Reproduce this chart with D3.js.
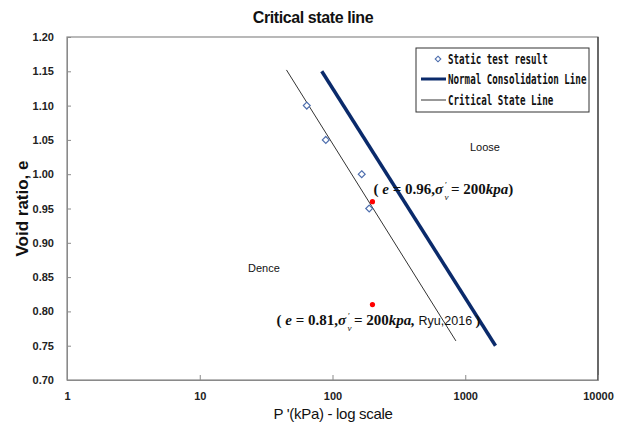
<!DOCTYPE html>
<html>
<head>
<meta charset="utf-8">
<script src="https://cdn.jsdelivr.net/npm/d3@7"></script>
<style>
  html, body { margin: 0; padding: 0; background: #fff; }
  svg { display: block; }
</style>
</head>
<body>
<svg id="chart" width="626" height="426"></svg>
<script>
// Static test results (mean effective stress, void ratio)
const testPressure = [64, 89, 166, 189];
const testVoid = [1.10, 1.05, 1.00, 0.95];

// Normal consolidation line end points
const nclPressure = [83, 1690];
const nclVoid = [1.15, 0.75];

// Critical state line end points
const cslPressure = [45, 850];
const cslVoid = [1.152, 0.757];

// Reference states at 200 kPa
const refPressure = [200, 200];
const refVoid = [0.96, 0.81];

// Axis ticks
const xTicks = [1, 10, 100, 1000, 10000];
const yTicks = [0.70, 0.75, 0.80, 0.85, 0.90, 0.95, 1.00, 1.05, 1.10, 1.15, 1.20];

const svg = d3.select("#chart");
const m = { left: 67, right: 598, top: 37, bottom: 380 };

const x = d3.scaleLog().domain([1, 10000]).range([m.left, m.right]);
const y = d3.scaleLinear().domain([0.70, 1.20]).range([m.bottom, m.top]);

const sans = "'Liberation Sans', Arial, sans-serif";

// Title
svg.append("text")
  .attr("x", 313).attr("y", 23)
  .attr("text-anchor", "middle")
  .style("font-family", sans).style("font-weight", "bold")
  .style("font-size", "16px").style("letter-spacing", "-0.4px")
  .attr("fill", "#111")
  .text("Critical state line");

// Plot frame
svg.append("rect")
  .attr("x", m.left).attr("y", m.top)
  .attr("width", m.right - m.left).attr("height", m.bottom - m.top)
  .attr("fill", "none").attr("stroke", "#8a8a8a").attr("stroke-width", 1.2);
svg.append("line")
  .attr("x1", m.right).attr("x2", m.right).attr("y1", m.top).attr("y2", m.bottom)
  .attr("stroke", "#333").attr("stroke-width", 1.2);

// Y axis
const yAxis = d3.axisLeft(y).tickValues(yTicks).tickFormat(d3.format(".2f")).tickSize(-4).tickPadding(13);
const gy = svg.append("g").attr("transform", `translate(${m.left},0)`).call(yAxis);
gy.select(".domain").attr("stroke", "#8a8a8a");
gy.selectAll(".tick line").attr("stroke", "#8a8a8a");
gy.selectAll(".tick text")
  .style("font-family", sans).style("font-weight", "bold").style("font-size", "11px")
  .attr("fill", "#222");

// X axis
const xAxis = d3.axisBottom(x).tickValues(xTicks).tickFormat(d3.format("d")).tickSize(-5).tickPadding(12);
const gx = svg.append("g").attr("transform", `translate(0,${m.bottom})`).call(xAxis);
gx.select(".domain").attr("stroke", "#8a8a8a");
gx.selectAll(".tick line").attr("stroke", "#8a8a8a");
gx.selectAll(".tick text")
  .style("font-family", sans).style("font-weight", "bold").style("font-size", "11px")
  .attr("fill", "#222");

// Axis titles
svg.append("text")
  .attr("x", 333).attr("y", 419)
  .attr("text-anchor", "middle")
  .style("font-family", sans).style("font-size", "15px").style("letter-spacing", "-0.3px")
  .attr("fill", "#111")
  .text("P '(kPa) - log scale");

svg.append("text")
  .attr("transform", `translate(28,${(m.top + m.bottom) / 2}) rotate(-90)`)
  .attr("text-anchor", "middle")
  .style("font-family", sans).style("font-weight", "bold").style("font-size", "17px")
  .attr("fill", "#111")
  .text("Void ratio, e");

// Lines
const line = d3.line().x(d => x(d[0])).y(d => y(d[1]));
const nclPts = nclPressure.map((p, i) => [p, nclVoid[i]]);
const cslPts = cslPressure.map((p, i) => [p, cslVoid[i]]);

svg.append("path").datum(cslPts).attr("d", line)
  .attr("fill", "none").attr("stroke", "#333").attr("stroke-width", 1);
svg.append("path").datum(nclPts).attr("d", line)
  .attr("fill", "none").attr("stroke", "#0a2a6b").attr("stroke-width", 3.5);

// Test result markers
const diamond = d3.symbol().type(d3.symbolDiamond2).size(30);
svg.append("g").selectAll("path")
  .data(testPressure.map((p, i) => [p, testVoid[i]]))
  .join("path")
  .attr("d", diamond)
  .attr("transform", d => `translate(${x(d[0])},${y(d[1])})`)
  .attr("fill", "#fff").attr("stroke", "#4f6fae").attr("stroke-width", 1.2);

// Reference points
svg.append("g").selectAll("circle")
  .data(refPressure.map((p, i) => [p, refVoid[i]]))
  .join("circle")
  .attr("cx", d => x(d[0])).attr("cy", d => y(d[1])).attr("r", 2.6)
  .attr("fill", "#ff0000");

// Region labels
svg.append("text").attr("x", 470).attr("y", 151)
  .style("font-family", sans).style("font-size", "11px").attr("fill", "#111").text("Loose");
svg.append("text").attr("x", 248).attr("y", 272)
  .style("font-family", sans).style("font-size", "11px").attr("fill", "#111").text("Dence");

// Annotations for reference states; the stress symbol carries a stacked prime and subscript
const serif = "'Liberation Serif', 'DejaVu Serif', serif";
function annotate(px, py, eVal, extra) {
  const g = svg.append("g").attr("transform", `translate(${px},${py})`);
  const style = (t) => t.style("font-family", serif).style("font-weight", "bold")
    .style("font-size", "15px").attr("fill", "#111");
  const a = style(g.append("text").attr("x", 0).attr("y", 0));
  a.append("tspan").style("font-style", "normal").text("( ");
  a.append("tspan").style("font-style", "italic").text("e");
  a.append("tspan").style("font-style", "normal").text(` = ${eVal.toFixed(2)},`);
  a.append("tspan").style("font-style", "italic").text("σ");
  const w1 = a.node().getComputedTextLength();
  // prime above, subscript below
  g.append("text").attr("x", w1 + 2).attr("y", -6)
    .style("font-family", serif).style("font-size", "9px").attr("fill", "#111").text("′");
  g.append("text").attr("x", w1 + 1.5).attr("y", 6)
    .style("font-family", serif).style("font-style", "italic").style("font-size", "9px").attr("fill", "#111").text("v");
  const b = style(g.append("text").attr("x", w1 + 8).attr("y", 0));
  b.append("tspan").style("font-style", "normal").text(" = 200");
  b.append("tspan").style("font-style", "italic").text(extra ? "kpa," : "kpa");
  if (extra) {
    b.append("tspan").style("font-family", sans).style("font-weight", "normal")
      .style("font-size", "12.5px").text(" " + extra + " ");
  }
  b.append("tspan").style("font-style", "normal").text(")");
}
annotate(x(refPressure[0]) + 1, y(refVoid[0]) - 8, refVoid[0], null);
annotate(x(refPressure[1]) - 96, y(refVoid[1]) + 20, refVoid[1], "Ryu,2016");

// Legend
const lg = svg.append("g");
lg.append("rect").attr("x", 416).attr("y", 48).attr("width", 173).attr("height", 64)
  .attr("fill", "#fff").attr("stroke", "#333").attr("stroke-width", 1);
const mono = "'DejaVu Sans Mono', 'Liberation Mono', monospace";
const legendItems = ["Static test result", "Normal Consolidation Line", "Critical State Line"];
const rows = [59, 79, 100];
lg.append("path").attr("d", d3.symbol().type(d3.symbolDiamond2).size(20))
  .attr("transform", `translate(438,${rows[0]})`)
  .attr("fill", "#fff").attr("stroke", "#4f6fae").attr("stroke-width", 1.1);
lg.append("line").attr("x1", 421).attr("x2", 446).attr("y1", rows[1]).attr("y2", rows[1])
  .attr("stroke", "#0a2a6b").attr("stroke-width", 3);
lg.append("line").attr("x1", 421).attr("x2", 446).attr("y1", rows[2]).attr("y2", rows[2])
  .attr("stroke", "#333").attr("stroke-width", 1);
legendItems.forEach((s, i) => {
  lg.append("text")
    .attr("transform", `translate(448,${rows[i] + 5}) scale(0.72,1.1)`)
    .style("font-family", mono).style("font-size", "12.8px").style("font-weight", "bold")
    .attr("fill", "#111").text(s);
});
</script>
</body>
</html>
